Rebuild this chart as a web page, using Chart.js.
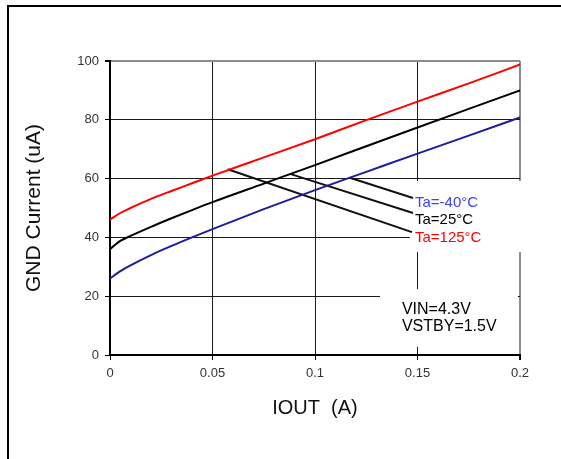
<!DOCTYPE html>
<html>
<head>
<meta charset="utf-8">
<script src="https://cdn.jsdelivr.net/npm/chart.js@4"></script>
<style>
html,body{margin:0;padding:0;background:#fff;}
canvas{display:block;}
</style>
</head>
<body>
<canvas id="c" width="561" height="459"></canvas>
<script>
// ---- data ----
const iout = [0, 0.005, 0.01, 0.02, 0.03, 0.04, 0.05, 0.075, 0.1, 0.125, 0.15, 0.175, 0.2];
const gndM40 = [26, 28.5, 30.5, 34, 37.1, 40.0, 42.8, 49.6, 56.1, 62.3, 68.5, 74.6, 80.8];
const gnd25  = [36, 38.8, 40.5, 43.6, 46.5, 49.3, 52, 58.3, 64.6, 71, 77.4, 83.7, 90];
const gnd125 = [46, 48.3, 50, 53.1, 55.8, 58.4, 61, 67.2, 73.4, 79.9, 86.2, 92.4, 98.8];

// leader lines: [start on curve, end at label]
const leaderM40X = [0.117, 0.1478];  const leaderM40Y = [60.3, 53.4];
const leader25X  = [0.0878, 0.1478]; const leader25Y  = [61.6, 48.3];
const leader125X = [0.0574, 0.1473]; const leader125Y = [63.2, 41.8];

const seriesLabels = ['Ta=-40°C', 'Ta=25°C', 'Ta=125°C'];
const conditionLines = ['VIN=4.3V', 'VSTBY=1.5V'];
const xTickLabels = ['0', '0.05', '0.1', '0.15', '0.2'];
const yTickLabels = ['0', '20', '40', '60', '80', '100'];
const xTitle = 'IOUT  (A)';
const yTitle = 'GND Current (uA)';

const pts = (xs, ys) => xs.map((x, i) => ({x: x, y: ys[i]}));

const FONT = "'Liberation Sans', Arial, sans-serif";

const decor = {
  id: 'decor',
  beforeDatasetsDraw(chart) {
    const ctx = chart.ctx;
    const xs = chart.scales.x, ys = chart.scales.y;
    ctx.save();
    ctx.fillStyle = '#fff';
    // box behind series labels
    const bx = xs.getPixelForValue(0.1463), by = ys.getPixelForValue(59.2);
    ctx.fillRect(bx, by, 113, ys.getPixelForValue(35) - by);
    // box behind conditions
    const cx = xs.getPixelForValue(0.1317), cy = ys.getPixelForValue(22.4);
    ctx.fillRect(cx, cy, xs.getPixelForValue(0.1990) - cx, ys.getPixelForValue(2.8) - cy);
    ctx.restore();
  },
  afterDraw(chart) {
    const ctx = chart.ctx;
    const xs = chart.scales.x, ys = chart.scales.y;
    ctx.save();
    // outer frame
    ctx.strokeStyle = '#000';
    ctx.lineWidth = 2;
    ctx.beginPath();
    ctx.moveTo(8, 470);
    ctx.lineTo(8, 6);
    ctx.lineTo(600, 6);
    ctx.stroke();
    // series labels
    ctx.font = '15px ' + FONT;
    ctx.textBaseline = 'middle';
    ctx.textAlign = 'left';
    const lx = xs.getPixelForValue(0.1478) + 2;
    const labelY = [51.7, 45.9, 39.8];
    const labelC = ['#4040ff', '#000000', '#ff0000'];
    seriesLabels.forEach((t, i) => {
      ctx.fillStyle = labelC[i];
      ctx.fillText(t, lx, ys.getPixelForValue(labelY[i]));
    });
    // conditions
    ctx.font = '16px ' + FONT;
    ctx.fillStyle = '#000';
    const vx = xs.getPixelForValue(0.1424);
    const condY = [15.3, 9.5];
    conditionLines.forEach((t, i) => {
      ctx.fillText(t, vx, ys.getPixelForValue(condY[i]));
    });
    ctx.restore();
  }
};

new Chart(document.getElementById('c'), {
  type: 'scatter',
  data: {
    datasets: [
      {data: pts(iout, gnd125), borderColor: '#ff0000', borderWidth: 2, showLine: true, pointRadius: 0, cubicInterpolationMode: 'monotone'},
      {data: pts(iout, gnd25),  borderColor: '#000000', borderWidth: 2, showLine: true, pointRadius: 0, cubicInterpolationMode: 'monotone'},
      {data: pts(iout, gndM40), borderColor: '#1c1c9c', borderWidth: 2, showLine: true, pointRadius: 0, cubicInterpolationMode: 'monotone'},
      {data: pts(leaderM40X, leaderM40Y), borderColor: '#111', borderWidth: 2, showLine: true, pointRadius: 0},
      {data: pts(leader25X, leader25Y),   borderColor: '#111', borderWidth: 2, showLine: true, pointRadius: 0},
      {data: pts(leader125X, leader125Y), borderColor: '#111', borderWidth: 2, showLine: true, pointRadius: 0}
    ]
  },
  options: {
    responsive: false,
    animation: false,
    layout: {padding: {left: 0, top: 61, right: 41, bottom: 0}},
    plugins: {legend: {display: false}, tooltip: {enabled: false}},
    scales: {
      x: {
        type: 'linear', min: 0, max: 0.2,
        afterFit(s) { s.height = 104; },
        ticks: {
          stepSize: 0.05, padding: 6, color: '#333',
          font: {family: FONT, size: 13},
          callback: (v, i) => xTickLabels[i]
        },
        grid: {
          color: (c) => c.index === 4 ? '#8c8c8c' : '#1a1a1a',
          lineWidth: (c) => c.index === 4 ? 2 : 1,
          tickColor: '#000', tickLength: 5
        },
        border: {color: '#000', width: 2},
        title: {display: true, text: xTitle, color: '#111', font: {family: FONT, size: 20}, padding: {top: 0, bottom: 39}}
      },
      y: {
        type: 'linear', min: 0, max: 100,
        afterFit(s) { s.width = 110; },
        ticks: {
          stepSize: 20, padding: 6, color: '#333',
          font: {family: FONT, size: 13},
          callback: (v, i) => yTickLabels[i]
        },
        grid: {
          color: (c) => c.index === 5 ? '#8c8c8c' : '#1a1a1a',
          lineWidth: (c) => c.index === 5 ? 2 : 1,
          tickColor: '#000', tickLength: 5
        },
        border: {color: '#000', width: 2},
        title: {display: true, text: yTitle, color: '#111', font: {family: FONT, size: 21}, padding: {top: 22, bottom: 0}}
      }
    }
  },
  plugins: [decor]
});
</script>
</body>
</html>
